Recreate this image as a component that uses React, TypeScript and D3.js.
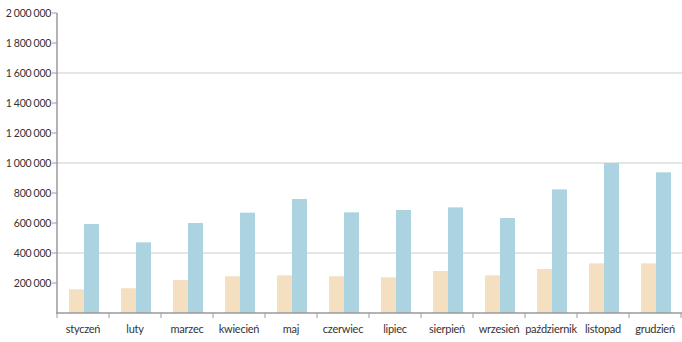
import React from "react";
import * as d3 from "d3";

const months = ["styczeń","luty","marzec","kwiecień","maj","czerwiec","lipiec","sierpień","wrzesień","październik","listopad","grudzień"];
const seriesA = [158000,165000,220000,245000,251000,245000,238000,280000,251000,293000,331000,331000];
const seriesB = [593000,471000,600000,669000,760000,671000,687000,704000,633000,824000,1000000,938000];
const yTicks = [200000,400000,600000,800000,1000000,1200000,1400000,1600000,1800000,2000000];
const gridTicks = [400000,1000000,1600000];

const W = 682, H = 342;
const M = { left: 57, right: 1, top: 13, bottom: 29 };

const fmt = (v: number) => d3.format(",")(v).replace(/,/g, " ");

export default function App() {
  const x = d3.scaleBand<string>().domain(months).range([M.left, W - M.right]).paddingInner(0).paddingOuter(0);
  const y = d3.scaleLinear().domain([0, 2000000]).range([H - M.bottom, M.top]);
  const bw = 15;
  const font = "Lato, 'Open Sans', sans-serif";
  const y0 = y(0);
  const boundaries = [...months.map((m) => x(m)!), W - M.right];
  return (
    <svg width={W} height={H} style={{ position: "absolute", left: 0, top: 0 }}>
      {gridTicks.map((t) => (
        <line key={t} x1={M.left} x2={W} y1={y(t)} y2={y(t)} stroke="#dcdcdc" strokeWidth={1.5} />
      ))}
      {months.map((m, i) => {
        const c = x(m)! + x.bandwidth() / 2 + 1;
        return (
          <g key={m}>
            <rect x={c - bw} y={y(seriesA[i])} width={bw} height={y0 - y(seriesA[i])} fill="#f4dfc1" />
            <rect x={c} y={y(seriesB[i])} width={bw} height={y0 - y(seriesB[i])} fill="#acd3e0" />
            <text x={x(m)! + x.bandwidth() / 2} y={333} textAnchor="middle" fontSize={11} letterSpacing={-0.25} fontFamily={font} fill="#333">{m}</text>
          </g>
        );
      })}
      <line x1={M.left} x2={M.left} y1={M.top} y2={y0} stroke="#9a9a9a" strokeWidth={1.5} />
      <line x1={M.left - 1} x2={W} y1={y0} y2={y0} stroke="#9a9a9a" strokeWidth={1.5} />
      {boundaries.map((b, i) => (
        <line key={i} x1={b} x2={b} y1={y0} y2={y0 + 5} stroke="#9a9a9a" strokeWidth={1} />
      ))}
      {yTicks.map((t) => (
        <g key={t}>
          <line x1={M.left - 5} x2={M.left} y1={y(t)} y2={y(t)} stroke="#9a9a9a" strokeWidth={1} />
          <text x={M.left - 6} y={y(t) + 4} textAnchor="end" fontSize={10.5} letterSpacing={-0.3} fontFamily={font} fill="#333">{fmt(t)}</text>
        </g>
      ))}
    </svg>
  );
}
